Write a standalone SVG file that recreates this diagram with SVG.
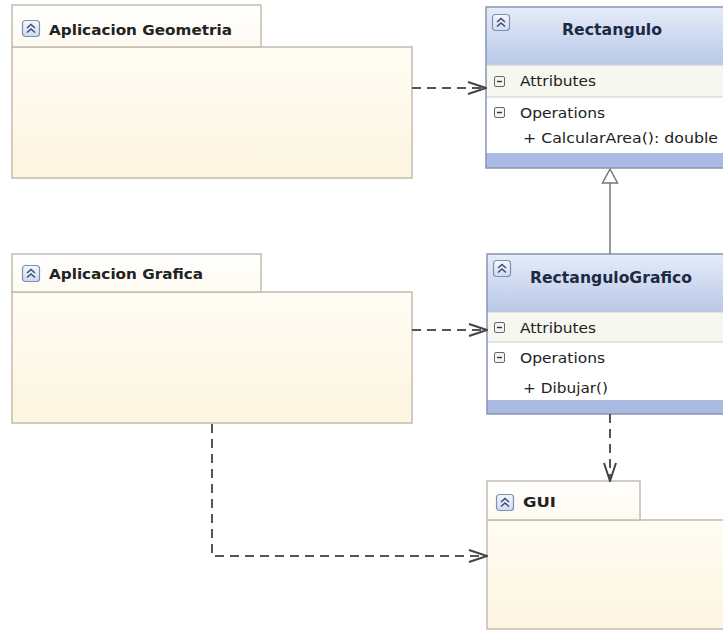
<svg xmlns="http://www.w3.org/2000/svg" width="723" height="632" viewBox="0 0 723 632">
  <defs>
    <linearGradient id="pkgFill" x1="0" y1="0" x2="0" y2="1">
      <stop offset="0" stop-color="#fffcf4"/>
      <stop offset="1" stop-color="#fdf5e0"/>
    </linearGradient>
    <linearGradient id="tabFill" x1="0" y1="0" x2="0" y2="1">
      <stop offset="0" stop-color="#ffffff"/>
      <stop offset="1" stop-color="#fdfaf0"/>
    </linearGradient>
    <linearGradient id="headFill" x1="0" y1="0" x2="0" y2="1">
      <stop offset="0" stop-color="#e6ecf8"/>
      <stop offset="1" stop-color="#b9c8e8"/>
    </linearGradient>
    <linearGradient id="iconFill" x1="0" y1="0" x2="0" y2="1">
      <stop offset="0" stop-color="#f4f7fd"/>
      <stop offset="1" stop-color="#cfdaf0"/>
    </linearGradient>
    <marker id="openArrow" viewBox="0 0 20 14" refX="19" refY="7" markerWidth="20" markerHeight="14" markerUnits="userSpaceOnUse" orient="auto">
      <path d="M1,1 L19,7 L1,13" fill="none" stroke="#444" stroke-width="2"/>
    </marker>
    <!-- collapse icon: rounded box with double chevron -->
    <g id="collapseIcon">
      <rect x="0.5" y="0.5" width="17" height="16" rx="3" fill="url(#iconFill)" stroke="#7d8fb3" stroke-width="1.2"/>
      <path d="M5,8 L9,4.5 L13,8 M5,12.5 L9,9 L13,12.5" fill="none" stroke="#3d4f78" stroke-width="1.6"/>
    </g>
    <g id="minusBox">
      <rect x="0.5" y="0.5" width="10" height="10" rx="1.5" fill="#f3f3f3" stroke="#666" stroke-width="1"/>
      <path d="M3,5.5 H8" stroke="#333" stroke-width="1.4"/>
    </g>
  </defs>
  <style>
    .pkg { fill: url(#pkgFill); stroke: #c4bcae; stroke-width: 1.5; }
    .tab { fill: url(#tabFill); stroke: #c4bcae; stroke-width: 1.5; }
    .title { font-family: "DejaVu Sans", "Liberation Sans", sans-serif; font-weight: bold; font-size: 14px; fill: #222; }
    .ctitle { font-family: "DejaVu Sans", "Liberation Sans", sans-serif; font-weight: bold; font-size: 15px; fill: #1e2a44; }
    .row { font-family: "DejaVu Sans", "Liberation Sans", sans-serif; font-size: 14px; fill: #222; }
    .cls { stroke: #8795b4; stroke-width: 1.5; }
    .dep { fill: none; stroke: #555; stroke-width: 2; stroke-dasharray: 9 6; }
  </style>

  <rect width="723" height="632" fill="#ffffff"/>

  <!-- Package: Aplicacion Geometria -->
  <g id="pkg-aplicacion-geometria">
    <rect class="pkg" x="12" y="47" width="400" height="131"/>
    <rect class="tab" x="12" y="5" width="249" height="42"/>
    <use href="#collapseIcon" x="22" y="20"/>
    <text class="title" x="49" y="35" textLength="183" lengthAdjust="spacingAndGlyphs">Aplicacion Geometria</text>
  </g>

  <!-- Package: Aplicacion Grafica -->
  <g id="pkg-aplicacion-grafica">
    <rect class="pkg" x="12" y="292" width="400" height="131"/>
    <rect class="tab" x="12" y="254" width="249" height="38"/>
    <use href="#collapseIcon" x="22" y="265"/>
    <text class="title" x="49" y="279" textLength="154" lengthAdjust="spacingAndGlyphs">Aplicacion Grafica</text>
  </g>

  <!-- Package: GUI -->
  <g id="pkg-gui">
    <rect class="pkg" x="487" y="520" width="250" height="109"/>
    <rect class="tab" x="487" y="481" width="153" height="39"/>
    <use href="#collapseIcon" x="496" y="494"/>
    <text class="title" x="523" y="507" textLength="33" lengthAdjust="spacingAndGlyphs">GUI</text>
  </g>

  <!-- Class: Rectangulo -->
  <g id="class-rectangulo">
    <rect x="486" y="7" width="250" height="58" fill="url(#headFill)"/>
    <rect x="486" y="65" width="250" height="32" fill="#f6f7ee"/>
    <rect x="486" y="97" width="250" height="56" fill="#ffffff"/>
    <rect x="486" y="153" width="250" height="15" fill="#a9bbe2"/>
    <path d="M486,65 H736 M486,97 H736" stroke="#c9cfd9" stroke-width="1.2"/>
    <rect class="cls" x="486" y="7" width="250" height="161" fill="none"/>
    <use href="#collapseIcon" x="492" y="14"/>
    <text class="ctitle" x="612" y="35" text-anchor="middle" textLength="100" lengthAdjust="spacingAndGlyphs">Rectangulo</text>
    <use href="#minusBox" x="494" y="76"/>
    <text class="row" x="520" y="86" textLength="76" lengthAdjust="spacingAndGlyphs">Attributes</text>
    <use href="#minusBox" x="494" y="107"/>
    <text class="row" x="520" y="118" textLength="85" lengthAdjust="spacingAndGlyphs">Operations</text>
    <text class="row" x="523" y="143" textLength="195" lengthAdjust="spacingAndGlyphs">+ CalcularArea(): double</text>
  </g>

  <!-- Class: RectanguloGrafico -->
  <g id="class-rectangulografico">
    <rect x="487" y="254" width="250" height="58" fill="url(#headFill)"/>
    <rect x="487" y="312" width="250" height="30" fill="#f6f7ee"/>
    <rect x="487" y="342" width="250" height="58" fill="#ffffff"/>
    <rect x="487" y="400" width="250" height="14" fill="#a9bbe2"/>
    <path d="M487,312 H737 M487,342 H737" stroke="#c9cfd9" stroke-width="1.2"/>
    <rect class="cls" x="487" y="254" width="250" height="160" fill="none"/>
    <use href="#collapseIcon" x="493" y="260"/>
    <text class="ctitle" x="611" y="283" text-anchor="middle" textLength="162" lengthAdjust="spacingAndGlyphs">RectanguloGrafico</text>
    <use href="#minusBox" x="494" y="322"/>
    <text class="row" x="520" y="333" textLength="76" lengthAdjust="spacingAndGlyphs">Attributes</text>
    <use href="#minusBox" x="494" y="352"/>
    <text class="row" x="520" y="363" textLength="85" lengthAdjust="spacingAndGlyphs">Operations</text>
    <text class="row" x="523" y="393" textLength="85" lengthAdjust="spacingAndGlyphs">+ Dibujar()</text>
  </g>

  <!-- Connectors -->
  <g id="connectors">
    <!-- dependencies -->
    <path class="dep" d="M412,88 H486" marker-end="url(#openArrow)"/>
    <path class="dep" d="M412,330 H487" marker-end="url(#openArrow)"/>
    <path class="dep" d="M610,414 V481" marker-end="url(#openArrow)"/>
    <path class="dep" d="M212,424 V556 H487" marker-end="url(#openArrow)"/>
    <!-- generalization -->
    <path d="M610,183 V254" stroke="#777" stroke-width="1.5" fill="none"/>
    <path d="M610,169 L617.5,183 H602.5 Z" fill="#ffffff" stroke="#777" stroke-width="1.5"/>
  </g>
</svg>
